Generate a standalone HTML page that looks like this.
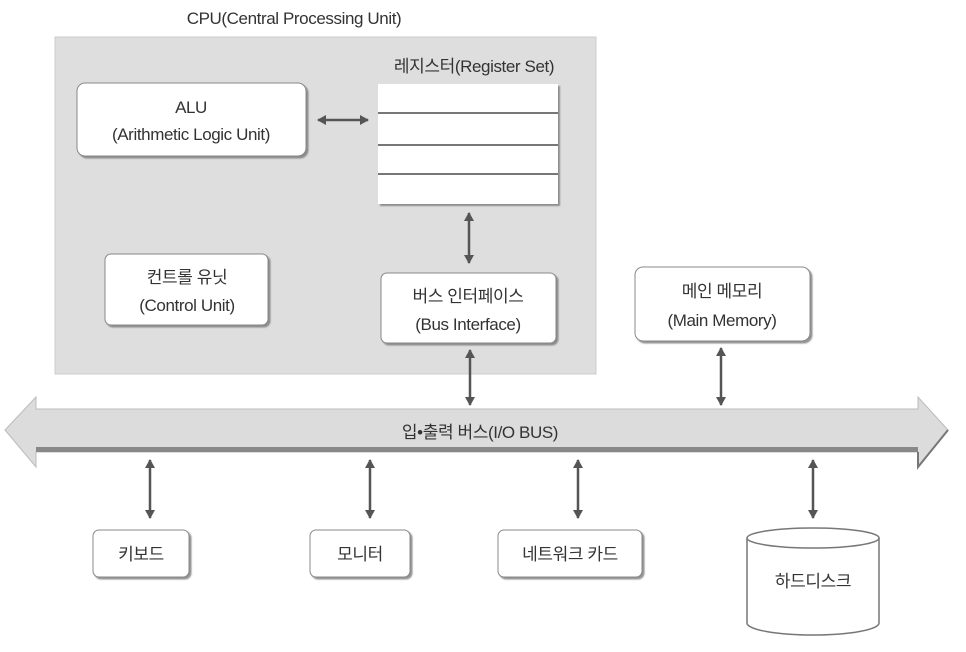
<!DOCTYPE html>
<html><head><meta charset="utf-8"><style>
body{margin:0;background:#fff}
svg{display:block}
text{font-family:"Liberation Sans","Noto Sans CJK KR",sans-serif;fill:#333;font-size:17px;text-anchor:middle;letter-spacing:-0.4px}
</style></head><body>
<svg width="966" height="652" viewBox="0 0 966 652">
<defs>
<marker id="a" markerWidth="12" markerHeight="12" refX="8" refY="5" orient="auto-start-reverse" markerUnits="userSpaceOnUse"><path d="M0,0 L9,5 L0,10 Z" fill="#555"/></marker>
<filter id="s"><feDropShadow dx="2" dy="2" stdDeviation="0.8" flood-color="#777" flood-opacity="0.8"/></filter>
</defs>
<text x="294" y="24" font-size="17">CPU(Central Processing Unit)</text>
<rect x="55" y="37" width="541" height="337" fill="#dedede" stroke="#ccc"/>
<rect x="77" y="83" width="229" height="73" rx="8" fill="#fff" stroke="#888" filter="url(#s)"/>
<text x="191" y="113">ALU</text>
<text x="191" y="140">(Arithmetic Logic Unit)</text>
<text x="474" y="72">레지스터(Register Set)</text>
<g filter="url(#s)"><rect x="378" y="84" width="180" height="120" fill="#fff"/></g>
<g stroke="#777" stroke-width="2"><line x1="378" y1="113" x2="558" y2="113"/><line x1="378" y1="145" x2="558" y2="145"/><line x1="378" y1="174" x2="558" y2="174"/></g>
<g stroke="#555" stroke-width="2.5" fill="none">
<line x1="318" y1="120" x2="368" y2="120" marker-start="url(#a)" marker-end="url(#a)"/>
<line x1="469" y1="213" x2="469" y2="263" marker-start="url(#a)" marker-end="url(#a)"/>
<line x1="470" y1="350" x2="470" y2="405" marker-start="url(#a)" marker-end="url(#a)"/>
<line x1="721" y1="348" x2="721" y2="405" marker-start="url(#a)" marker-end="url(#a)"/>
<line x1="150" y1="460" x2="150" y2="518" marker-start="url(#a)" marker-end="url(#a)"/>
<line x1="370" y1="460" x2="370" y2="518" marker-start="url(#a)" marker-end="url(#a)"/>
<line x1="578" y1="460" x2="578" y2="518" marker-start="url(#a)" marker-end="url(#a)"/>
<line x1="813" y1="460" x2="813" y2="518" marker-start="url(#a)" marker-end="url(#a)"/>
</g>
<rect x="105" y="254" width="163" height="71" rx="6" fill="#fff" stroke="#888" filter="url(#s)"/>
<text x="187" y="283">컨트롤 유닛</text>
<text x="187" y="311">(Control Unit)</text>
<rect x="381" y="273" width="175" height="70" rx="6" fill="#fff" stroke="#888" filter="url(#s)"/>
<text x="468" y="302">버스 인터페이스</text>
<text x="468" y="330">(Bus Interface)</text>
<rect x="635" y="267" width="175" height="74" rx="8" fill="#fff" stroke="#888" filter="url(#s)"/>
<text x="722" y="297">메인 메모리</text>
<text x="722" y="326">(Main Memory)</text>
<path d="M5,430 L36,397 L36,409 L918,409 L918,397 L948,430 L918,467 L918,452 L36,452 L36,467 Z" fill="#dcdcdc" stroke="#bbb"/>
<rect x="36" y="447" width="882" height="5" fill="#888"/>
<path d="M918,452 L918,467 L948,430" fill="none" stroke="#777" stroke-width="2"/>
<text x="480" y="438">입•출력 버스(I/O BUS)</text>
<rect x="93" y="530" width="96" height="47" rx="6" fill="#fff" stroke="#888" filter="url(#s)"/>
<text x="141" y="560">키보드</text>
<rect x="310" y="530" width="100" height="47" rx="6" fill="#fff" stroke="#888" filter="url(#s)"/>
<text x="360" y="560">모니터</text>
<rect x="498" y="530" width="144" height="47" rx="6" fill="#fff" stroke="#888" filter="url(#s)"/>
<text x="570" y="560">네트워크 카드</text>
<path d="M747,538 L747,623 A66,12 0 0 0 879,623 L879,538" fill="#fff" stroke="#777" stroke-width="1.5"/>
<ellipse cx="813" cy="538" rx="66" ry="10" fill="#fff" stroke="#777" stroke-width="1.5"/>
<text x="813" y="587">하드디스크</text>
</svg>
</body></html>
